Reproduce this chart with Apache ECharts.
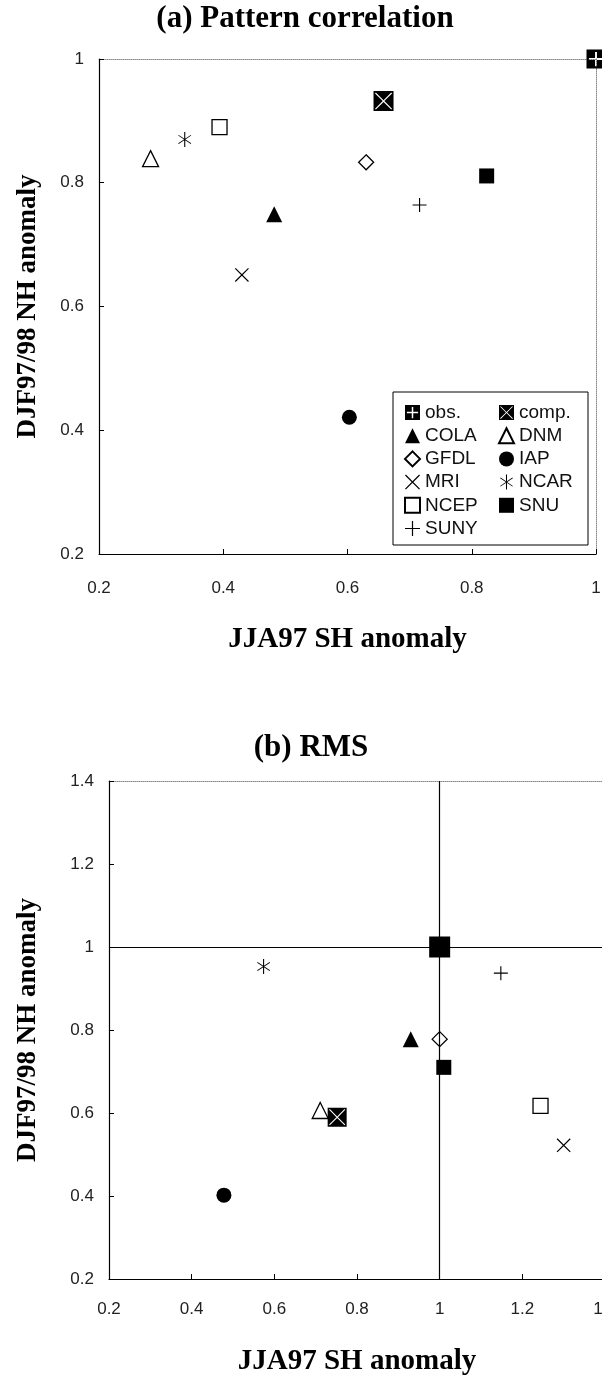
<!DOCTYPE html>
<html><head><meta charset="utf-8">
<script src="https://cdn.jsdelivr.net/npm/echarts@6/dist/echarts.min.js"></script>
<style>html,body{margin:0;padding:0;background:#fff}#c{width:602px;height:1384px}</style>
</head><body><div id="c"></div>
<script>
// ---------- data ----------
const models   = ['obs.', 'comp.', 'COLA', 'DNM', 'GFDL', 'IAP', 'MRI', 'NCAR', 'NCEP', 'SNU', 'SUNY'];
const patternX = [1.000, 0.658, 0.482, 0.283, 0.630, 0.603, 0.430, 0.338, 0.394, 0.824, 0.716];
const patternY = [1.000, 0.932, 0.749, 0.839, 0.833, 0.421, 0.651, 0.870, 0.890, 0.811, 0.764];
const rmsX     = [1.000, 0.752, 0.930, 0.711, 1.000, 0.478, 1.300, 0.574, 1.244, 1.010, 1.148];
const rmsY     = [1.000, 0.590, 0.778, 0.606, 0.778, 0.402, 0.522, 0.953, 0.617, 0.710, 0.937];
const legendLeftCol  = ['obs.', 'COLA', 'GFDL', 'MRI', 'NCEP', 'SUNY'];
const legendRightCol = ['comp.', 'DNM', 'IAP', 'NCAR', 'SNU'];
const axisA = {min: 0.2, max: 1.0, interval: 0.2};
const axisB = {min: 0.2, max: 1.4, interval: 0.2};
const refValue = 1;
const titleA = '(a) Pattern correlation';
const titleB = '(b) RMS';
const xName = 'JJA97 SH anomaly';
const yName = 'DJF97/98 NH anomaly';

// ---------- symbols ----------
const P_OBS = 'path://M0,0L20,0L20,20L0,20Z M9,2.5L9,9L2.5,9L2.5,11L9,11L9,17.5L11,17.5L11,11L17.5,11L17.5,9L11,9L11,2.5Z';
const a = 0.8;
const P_COMP = 'path://M0,0L20,0L20,20L0,20Z M' + [
  [10-a,10],[1.5,18.5-a],[1.5+a,18.5],[10,10+a],[18.5-a,18.5],[18.5,18.5-a],
  [10+a,10],[18.5,1.5+a],[18.5-a,1.5],[10,10-a],[1.5+a,1.5],[1.5,1.5+a]
].map(p => p[0] + ',' + p[1]).join('L') + 'Z';
const P_X = 'path://M0,1.2L1.2,0L20,18.8L18.8,20Z M18.8,0L20,1.2L1.2,20L0,18.8Z';
const P_PLUS = 'path://M9.2,0L10.8,0L10.8,20L9.2,20Z M0,9.2L20,9.2L20,10.8L0,10.8Z';
const P_AST = 'path://M7.8,0L9.2,0L9.2,20L7.8,20Z M0,4.9L0.6,4L17,15.1L16.4,16Z M16.4,4L17,4.9L0.6,16L0,15.1Z';

const filled = {color: '#000', opacity: 1};
const open = {color: '#fff', borderColor: '#000', borderWidth: 1.3, opacity: 1};
const styleA = {
  'obs.':  {symbol: P_OBS, size: 19, item: filled, z: 5},
  'comp.': {symbol: P_COMP, size: 20, item: filled, z: 6},
  'COLA':  {symbol: 'triangle', size: 16, item: filled, z: 3},
  'DNM':   {symbol: 'triangle', size: 16, item: open, z: 3},
  'GFDL':  {symbol: 'diamond', size: 15, item: open, z: 3},
  'IAP':   {symbol: 'circle', size: 15, item: filled, z: 3},
  'MRI':   {symbol: P_X, size: 14, item: filled, z: 3},
  'NCAR':  {symbol: P_AST, size: [13, 15], item: filled, z: 3},
  'NCEP':  {symbol: 'rect', size: 15, item: open, z: 3},
  'SNU':   {symbol: 'rect', size: 15, item: filled, z: 3},
  'SUNY':  {symbol: P_PLUS, size: 14, item: filled, z: 3}
};
const styleB = Object.assign({}, styleA, {
  'obs.':  {symbol: 'rect', size: 21, item: filled, z: 5},
  'comp.': {symbol: P_COMP, size: 19, item: filled, z: 6}
});

// ---------- layout ----------
const tickFont = {fontFamily: 'Liberation Sans, Arial, sans-serif', fontSize: 17, color: '#222'};
const nameFont = {fontFamily: 'Liberation Serif, Times New Roman, serif', fontWeight: 'bold', fontSize: 29, color: '#000'};

function mainX(gi, sc, gap, margin) {
  return {gridIndex: gi, type: 'value', position: 'bottom', min: sc.min, max: sc.max, interval: sc.interval,
    axisLine: {onZero: false, lineStyle: {color: '#000', width: 1.2}},
    axisTick: {inside: true, length: 5, lineStyle: {color: '#000'}},
    axisLabel: Object.assign({margin: margin}, tickFont), splitLine: {show: false},
    name: xName, nameLocation: 'middle', nameGap: gap, nameTextStyle: nameFont};
}
function mainY(gi, sc, gap) {
  return {gridIndex: gi, type: 'value', position: 'left', min: sc.min, max: sc.max, interval: sc.interval,
    axisLine: {onZero: false, lineStyle: {color: '#000', width: 1.2}},
    axisTick: {inside: true, length: 5, lineStyle: {color: '#000'}},
    axisLabel: Object.assign({margin: 15}, tickFont), splitLine: {show: false},
    name: yName, nameLocation: 'middle', nameGap: gap, nameTextStyle: Object.assign({}, nameFont, {fontSize: 27})};
}
function frameAxis(gi, sc, pos) {
  return {gridIndex: gi, type: 'value', position: pos, min: sc.min, max: sc.max, interval: sc.interval,
    axisLine: {onZero: false, lineStyle: {color: '#888', type: 'dotted', width: 1}},
    axisTick: {show: false}, axisLabel: {show: false}, splitLine: {show: false}};
}

const series = [];
models.forEach((m, i) => {
  const sa = styleA[m];
  series.push({name: m, type: 'scatter', xAxisIndex: 0, yAxisIndex: 0, clip: false, z: sa.z,
    symbol: sa.symbol, symbolSize: sa.size, itemStyle: sa.item,
    data: [[patternX[i], patternY[i]]]});
});
models.forEach((m, i) => {
  const sb = styleB[m];
  const s = {name: m, type: 'scatter', xAxisIndex: 2, yAxisIndex: 2, clip: false, z: sb.z,
    symbol: sb.symbol, symbolSize: sb.size, itemStyle: sb.item,
    data: [[rmsX[i], rmsY[i]]]};
  if (i === 0) {
    s.markLine = {silent: true, symbol: ['none', 'none'], label: {show: false},
      lineStyle: {color: '#000', width: 1.2, type: 'solid', opacity: 1},
      emphasis: {disabled: true},
      data: [{xAxis: refValue}, {yAxis: refValue}]};
  }
  series.push(s);
});

const legendCommon = {orient: 'vertical', top: 403, itemWidth: 15, itemHeight: 15, itemGap: 4.2, padding: 0,
  selectedMode: false,
  textStyle: {fontFamily: 'Liberation Sans, Arial, sans-serif', fontSize: 19, color: '#111'}};

const option = {
  animation: false,
  backgroundColor: '#fff',
  grid: [
    {left: 99, top: 59, width: 497, height: 495, outerBoundsMode: 'none', containLabel: false},
    {left: 109, top: 781, width: 496, height: 498, outerBoundsMode: 'none', containLabel: false}
  ],
  xAxis: [mainX(0, axisA, 71, 26), frameAxis(0, axisA, 'top'), mainX(1, axisB, 68, 22), frameAxis(1, axisB, 'top')],
  yAxis: [mainY(0, axisA, 57), frameAxis(0, axisA, 'right'), mainY(1, axisB, 67), frameAxis(1, axisB, 'right')],
  legend: [
    Object.assign({left: 404, data: legendLeftCol}, legendCommon),
    Object.assign({left: 498, data: legendRightCol}, legendCommon)
  ],
  graphic: [
    {type: 'rect', shape: {x: 393, y: 392, width: 195, height: 153}, style: {fill: 'none', stroke: '#000', lineWidth: 1}, z: 1},
    {type: 'text', x: 305, y: 19, style: {text: titleA, align: 'center', verticalAlign: 'middle',
      font: 'bold 31px "Liberation Serif", "Times New Roman", serif', fill: '#000'}},
    {type: 'text', x: 311, y: 748, style: {text: titleB, align: 'center', verticalAlign: 'middle',
      font: 'bold 31px "Liberation Serif", "Times New Roman", serif', fill: '#000'}}
  ],
  series: series
};
const chart = echarts.init(document.getElementById('c'), null, {renderer: 'canvas'});
chart.setOption(option);
</script></body></html>
